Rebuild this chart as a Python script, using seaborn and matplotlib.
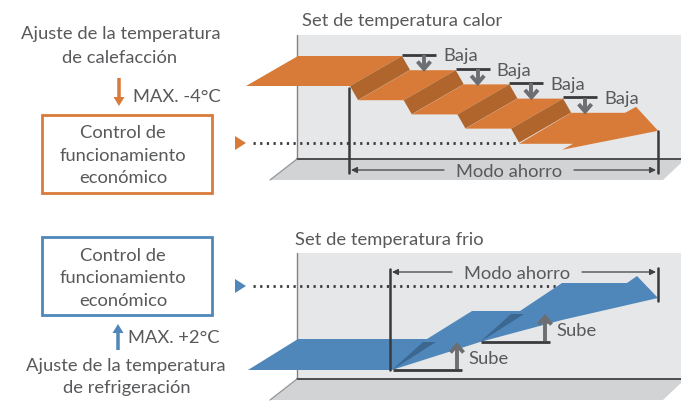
import matplotlib
matplotlib.use("Agg")
import matplotlib.pyplot as plt
from matplotlib.patches import Polygon, Rectangle, FancyArrow
import seaborn as sns
import numpy as np

# ---------------- data ----------------
heat_steps = [0, 1, 2, 3, 4]          # plate index of the heating staircase (descending)
heat_labels = ["Baja", "Baja", "Baja", "Baja"]
cool_steps = [0, 1, 2]                # plate index of the cooling ribbon (ascending)
cool_labels = ["Sube", "Sube"]
title_heat = "Set de temperatura calor"
title_cool = "Set de temperatura frio"
mode_label = "Modo ahorro"
box_lines = ["Control de", "funcionamiento", "económico"]
heat_adjust = ["Ajuste de la temperatura", "de calefacción"]
cool_adjust = ["Ajuste de la temperatura", "de refrigeración"]
heat_max = "MAX. -4°C"
cool_max = "MAX. +2°C"

# ---------------- style ----------------
sns.set_theme(style="white")
plt.rcParams["font.family"] = ["Lato", "DejaVu Sans"]
ORANGE = "#d97b38"
ORANGE_D = "#b0652c"
BLUE = "#5087ba"
BLUE_D = "#3c6791"
WALL = "#e6e7e8"
FLOOR = "#d1d3d4"
EDGE = "#414042"
TXT = "#58595b"
ARR = "#6d6e71"
FS = 13.2

fig = plt.figure(figsize=(6.81, 4.01), dpi=100)
ax = fig.add_axes([0, 0, 1, 1])
ax.set_xlim(0, 681)
ax.set_ylim(401, 0)
ax.axis("off")


def poly(pts, color, z=2, **kw):
    ax.add_patch(Polygon(pts, closed=True, facecolor=color, edgecolor="none", zorder=z, **kw))


def room(top, bottom, floor_bottom):
    poly([(297, top), (681, top), (681, bottom), (297, bottom)], WALL, z=0)
    poly([(297, bottom), (681, bottom), (681, bottom + 4), (663, floor_bottom), (270, floor_bottom)], FLOOR, z=0)
    ax.plot([297, 297], [top, bottom], color="#808285", lw=1.0, zorder=1)
    ax.plot([297, 681], [bottom, bottom], color=EDGE, lw=1.3, zorder=1)
    ax.plot([297, 270], [bottom, floor_bottom], color="#939598", lw=0.9, zorder=1)


def gray_arrow(x, y0, y1):
    # stem from y0 to y1 (tip at y1) with chevron head
    ax.plot([x, x], [y0, y1], color=ARR, lw=2.8, solid_capstyle="butt", zorder=6)
    s = 1 if y1 > y0 else -1
    ax.plot([x - 6.5, x, x + 6.5], [y1 - s * 7.5, y1, y1 - s * 7.5], color=ARR, lw=2.8,
            solid_joinstyle="miter", solid_capstyle="butt", zorder=6)


def mode_span(x0, x1, y, label, cx):
    w = 57
    ax.annotate("", xy=(x0 + 2, y), xytext=(cx - w - 8, y),
                arrowprops=dict(arrowstyle="-|>", color=EDGE, lw=0.9, mutation_scale=9, shrinkA=0, shrinkB=0), zorder=6)
    ax.annotate("", xy=(x1 - 2, y), xytext=(cx + w + 8, y),
                arrowprops=dict(arrowstyle="-|>", color=EDGE, lw=0.9, mutation_scale=9, shrinkA=0, shrinkB=0), zorder=6)
    ax.text(cx, y + 7, label, ha="center", va="baseline", fontsize=FS, color=TXT, zorder=7)


# =============== TOP PANEL (heating) ===============
room(35, 159, 180)
ax.text(302, 26, title_heat, ha="left", va="baseline", fontsize=FS, color=TXT)

dx_step, dy_step = 53.7, 14.2
depth = np.array([-52.0, 30.0])
yb = [56 + dy_step * i for i in heat_steps]
xe = [402 + dx_step * i for i in heat_steps[:-1]]

# plates
for i in heat_steps[:-1]:
    xs = 298 if i == 0 else xe[i - 1] + 8
    back = [(xs, yb[i]), (xe[i], yb[i])]
    front = [(xe[i] + depth[0], yb[i] + depth[1]), (xs + depth[0], yb[i] + depth[1])]
    poly(back + front, ORANGE, z=3)
# risers
for i in heat_steps[:-1]:
    pts = [(xe[i] - 52, yb[i] + 30), (xe[i], yb[i]), (xe[i] + 8, yb[i] + 14), (xe[i] - 44, yb[i] + 44)]
    poly(pts, ORANGE_D, z=4)
# last plate with arrow head
last = heat_steps[-1]
xs = xe[-1] + 8
y4 = yb[last]
poly([(xs, y4), (xs + 54, y4), (xs + 65, y4 - 6), (xs + 87, y4 + 18), (xs - 9, y4 + 37),
      (xs + 2, y4 + 31), (xs - 52, y4 + 31)], ORANGE, z=3)

# Baja markers
for i, lab in enumerate(heat_labels):
    ax.plot([xe[i], xe[i] + 34], [yb[i] - 1.5, yb[i] - 1.5], color="#3a3a3c", lw=2.0, zorder=6,
            solid_capstyle="butt")
    gray_arrow(xe[i] + 22, yb[i] - 1, yb[i] + 13)
    ax.text(xe[i] + 41, yb[i] + 5.5, lab, ha="left", va="baseline", fontsize=FS, color=TXT, zorder=7)

# Modo ahorro span (top)
ax.plot([349, 349], [88, 173], color="#3a3a3c", lw=1.8, zorder=6)
ax.plot([658, 658], [131, 173], color="#3a3a3c", lw=1.8, zorder=6)
mode_span(349, 658, 170, mode_label, 509)

# dotted line + marker
sns.lineplot(x=[253, 518], y=[143, 143], ax=ax, color="#3a3a3c", lw=2.0,
             linestyle=(0, (0.8, 1.6)), zorder=5, legend=False)
ax.add_patch(Polygon([(235, 136), (246, 143), (235, 150)], closed=True, facecolor=ORANGE, edgecolor="none", zorder=6))

# left texts
ax.text(121, 39, heat_adjust[0], ha="center", va="baseline", fontsize=FS, color=TXT)
ax.text(120, 63, heat_adjust[1], ha="center", va="baseline", fontsize=FS, color=TXT)
ax.add_patch(FancyArrow(119, 78, 0, 28, width=3.5, head_width=11, head_length=9,
                        length_includes_head=True, color=ORANGE, lw=0))
ax.text(133, 102, heat_max, ha="left", va="baseline", fontsize=FS, color=TXT)
ax.add_patch(Rectangle((42, 115), 170, 78, facecolor="white", edgecolor=ORANGE, lw=2.0, zorder=2))
for j, (ln, yy) in enumerate(zip(box_lines, [138, 161, 183])):
    ax.text(123, yy, ln, ha="center", va="baseline", fontsize=FS, color=TXT, zorder=3)

# =============== BOTTOM PANEL (cooling) ===============
room(253, 379, 400)
ax.text(295, 245, title_cool, ha="left", va="baseline", fontsize=FS, color=TXT)

# ribbon corners derived from the level index
cx0, cy0 = 392.0, 370.0
rdx, rdy = 88.0, -28.0        # front corner shift per level
C = [(cx0 + rdx * (k - 1), cy0 + rdy * (k - 1)) for k in cool_steps[1:]]
back_y = [339 - 28 * k for k in cool_steps]
C1, C2 = C[0], C[1]
ribbon = [(248, 370), C1, C2,
          (C2[0] + 82, back_y[2] + 37),          # lower barb
          (658, back_y[2] + 15),                  # tip
          (637, back_y[2] - 7),                   # upper barb
          (627, back_y[2]),
          (C2[0] + 82, back_y[2]),
          (C2[0] + 40, back_y[1]),
          (C1[0] + 80, back_y[1]),
          (C1[0] + 35, back_y[0]),
          (298, back_y[0])]
poly(ribbon, BLUE, z=3)
for Ck in (C1, C2):
    poly([Ck, (Ck[0] + 31, Ck[1] - 28), (Ck[0] + 44, Ck[1] - 28)], BLUE_D, z=4)

# Sube markers
sube_y = [C1[1], C2[1]]
sube_x = [C1[0], C2[0]]
for k, lab in enumerate(cool_labels):
    ax.plot([sube_x[k] + 1, sube_x[k] + 70], [sube_y[k], sube_y[k]], color="#3a3a3c", lw=2.0, zorder=6,
            solid_capstyle="butt")
    gray_arrow(sube_x[k] + 65, sube_y[k] - 1, sube_y[k] - 25)
    ax.text(sube_x[k] + 76, sube_y[k] - 6, lab, ha="left", va="baseline", fontsize=FS, color=TXT, zorder=7)

# Modo ahorro span (bottom)
ax.plot([390, 390], [269, 370], color="#3a3a3c", lw=1.8, zorder=6)
ax.plot([658, 658], [268, 301], color="#3a3a3c", lw=1.8, zorder=6)
mode_span(390, 658, 272, mode_label, 517)

sns.lineplot(x=[253, 560], y=[286, 286], ax=ax, color="#3a3a3c", lw=2.0,
             linestyle=(0, (0.8, 1.6)), zorder=2, legend=False)
ax.add_patch(Polygon([(235, 279), (246, 286), (235, 293)], closed=True, facecolor=BLUE, edgecolor="none", zorder=6))

ax.add_patch(Rectangle((42, 237), 170, 78, facecolor="white", edgecolor=BLUE, lw=2.0, zorder=2))
for ln, yy in zip(box_lines, [261, 283, 306]):
    ax.text(123, yy, ln, ha="center", va="baseline", fontsize=FS, color=TXT, zorder=3)
ax.add_patch(FancyArrow(118, 350, 0, -26, width=3.5, head_width=11, head_length=9,
                        length_includes_head=True, color=BLUE, lw=0))
ax.text(128, 343, cool_max, ha="left", va="baseline", fontsize=FS, color=TXT)
ax.text(126, 371, cool_adjust[0], ha="center", va="baseline", fontsize=FS, color=TXT)
ax.text(127, 393, cool_adjust[1], ha="center", va="baseline", fontsize=FS, color=TXT)

fig.savefig("out.png", dpi=100, facecolor="white")
